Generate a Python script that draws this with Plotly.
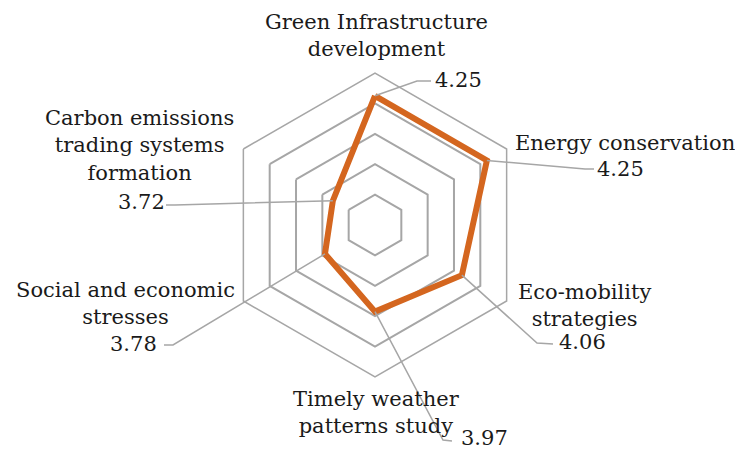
import math
import plotly.graph_objects as go

categories = [
    "Green Infrastructure<br>development",
    "Energy conservation",
    "Eco-mobility<br>strategies",
    "Timely weather<br>patterns study",
    "Social and economic<br>stresses",
    "Carbon emissions<br>trading systems<br>formation",
]
values = [4.25, 4.25, 4.06, 3.97, 3.78, 3.72]
radial_range = [3.4, 4.4]
radial_step = 0.2

# the page body has an 8px margin, so the figure is shrunk and shifted by it
OFF = 8
W, H = 743 - OFF, 452 - OFF
CX, CY, RADIUS = 375, 225, 152   # pixel centre and outer radius of the polar area (window coords)

GRID = "#a6a6a6"
ORANGE = "#d4661f"
FONT = dict(family="DejaVu Serif", size=21, color="#1a1a1a")

# label placement (pixel centres), leader elbows and ends
name_pos = [(376, 35), (625, 143), (584, 305), (376, 412), (125, 303), (139, 145)]
value_pos = [(458, 80), (620, 169), (582, 342), (484, 438), (133, 344), (141, 202)]
elbows = [(417, 81), (585, 169), (537, 343), (443, 440), (173, 345), (175, 205)]
ends = [(431, 81), (594, 169), (553, 344), (452, 441), (164, 345), (166, 205)]


def px(x, y):
    return (x - OFF) / W, 1 - (y - OFF) / H


def point_px(value, k):
    r = (value - radial_range[0]) / (radial_range[1] - radial_range[0]) * RADIUS
    ang = 2 * math.pi * k / len(categories)
    return CX + r * math.sin(ang), CY - r * math.cos(ang)


fig = go.Figure(
    go.Scatterpolar(
        r=values + values[:1],
        theta=categories + categories[:1],
        mode="lines",
        line=dict(color=ORANGE, width=6),
        hoverinfo="skip",
    )
)

shapes = []
annotations = []
for k, (cat, val) in enumerate(zip(categories, values)):
    x0, y0 = point_px(val, k)
    path = "M {},{} L {},{} L {},{}".format(
        *px(x0, y0), *px(*elbows[k]), *px(*ends[k])
    )
    shapes.append(dict(type="path", path=path, xref="paper", yref="paper",
                       line=dict(color=GRID, width=1.5)))
    nx, ny = px(*name_pos[k])
    annotations.append(dict(x=nx, y=ny, xref="paper", yref="paper", text=cat,
                            showarrow=False, font=FONT, align="center",
                            xanchor="center", yanchor="middle"))
    vx, vy = px(*value_pos[k])
    annotations.append(dict(x=vx, y=vy, xref="paper", yref="paper", text=f"{val:.2f}",
                            showarrow=False, font=FONT,
                            xanchor="center", yanchor="middle"))

x_lo, y_hi = px(CX - RADIUS, CY - RADIUS)
x_hi, y_lo = px(CX + RADIUS, CY + RADIUS)

fig.update_layout(
    width=W,
    height=H,
    margin=dict(l=0, r=0, t=0, b=0),
    paper_bgcolor="white",
    showlegend=False,
    shapes=shapes,
    annotations=annotations,
    polar=dict(
        domain=dict(x=[x_lo, x_hi], y=[y_lo, y_hi]),
        gridshape="linear",
        bgcolor="white",
        radialaxis=dict(range=radial_range, tick0=radial_range[0], dtick=radial_step,
                        showticklabels=False, ticks="", showline=False,
                        gridcolor=GRID, gridwidth=1.5),
        angularaxis=dict(rotation=90, direction="clockwise", showgrid=False,
                         showticklabels=False, ticks="", showline=True,
                         linecolor=GRID, linewidth=1.5),
    ),
)

fig.write_html("out.html")
